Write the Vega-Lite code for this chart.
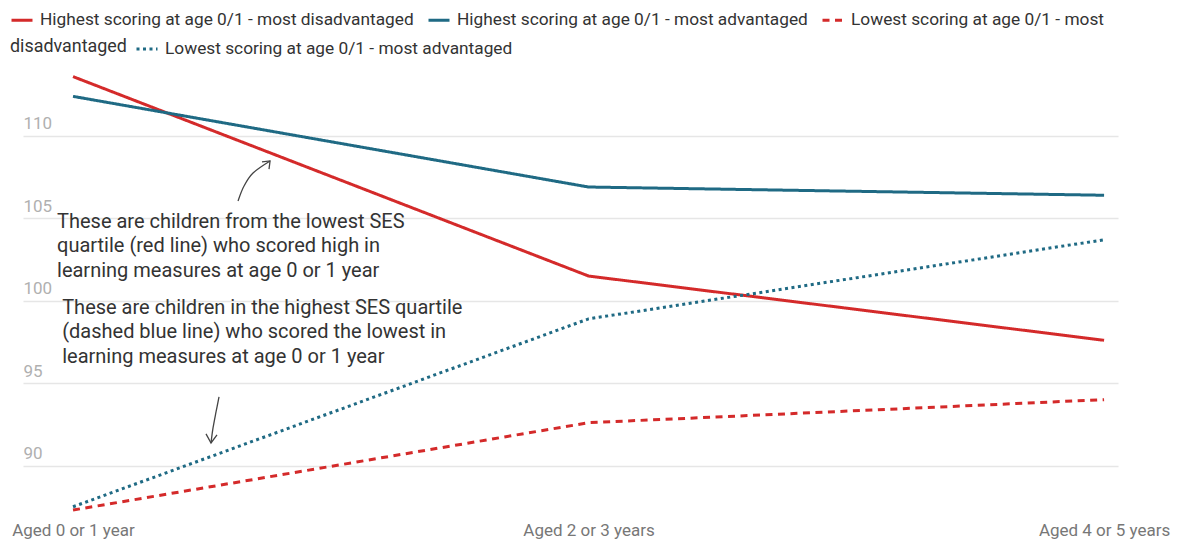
{
  "$schema": "https://vega.github.io/schema/vega-lite/v6.json",
  "autosize": "none",
  "width": 1095,
  "height": 445,
  "padding": {"left": 23, "top": 70, "right": 60, "bottom": 27},
  "background": "white",
  "config": {
    "view": {"stroke": null},
    "font": "Roboto",
    "legend": {
      "orient": "none",
      "direction": "horizontal",
      "padding": 0,
      "labelFont": "Roboto",
      "labelFontSize": 17.3,
      "labelColor": "#333333",
      "labelLimit": 600,
      "labelOffset": 6,
      "columnPadding": 8,
      "symbolType": "stroke",
      "symbolSize": 441,
      "symbolStrokeWidth": 3,
      "titleFont": "Roboto",
      "titleFontSize": 17.9,
      "titleFontWeight": "normal",
      "titleColor": "#333333"
    }
  },
  "datasets": {
    "scores": [
      {"age": 0, "series": "Highest scoring at age 0/1 - most disadvantaged", "score": 113.6},
      {"age": 1, "series": "Highest scoring at age 0/1 - most disadvantaged", "score": 101.5},
      {"age": 2, "series": "Highest scoring at age 0/1 - most disadvantaged", "score": 97.6},
      {"age": 0, "series": "Highest scoring at age 0/1 - most advantaged", "score": 112.4},
      {"age": 1, "series": "Highest scoring at age 0/1 - most advantaged", "score": 106.9},
      {"age": 2, "series": "Highest scoring at age 0/1 - most advantaged", "score": 106.4},
      {"age": 0, "series": "Lowest scoring at age 0/1 - most disadvantaged", "score": 87.3},
      {"age": 1, "series": "Lowest scoring at age 0/1 - most disadvantaged", "score": 92.6},
      {"age": 2, "series": "Lowest scoring at age 0/1 - most disadvantaged", "score": 94.0},
      {"age": 0, "series": "Lowest scoring at age 0/1 - most advantaged", "score": 87.5},
      {"age": 1, "series": "Lowest scoring at age 0/1 - most advantaged", "score": 98.9},
      {"age": 2, "series": "Lowest scoring at age 0/1 - most advantaged", "score": 103.7}
    ],
    "notes": [
      {"nx": -0.031, "ny": 104.44, "note": "These are children from the lowest SES\nquartile (red line) who scored high in\nlearning measures at age 0 or 1 year"},
      {"nx": -0.021, "ny": 99.22, "note": "These are children in the highest SES quartile\n(dashed blue line) who scored the lowest in\nlearning measures at age 0 or 1 year"}
    ],
    "shafts": [
      {"arrow": "a1", "ord": 1, "ax": 0.3201, "ay": 106.05},
      {"arrow": "a1", "ord": 2, "ax": 0.3317, "ay": 106.96},
      {"arrow": "a1", "ord": 3, "ax": 0.3492, "ay": 107.75},
      {"arrow": "a1", "ord": 4, "ax": 0.3822, "ay": 108.48},
      {"arrow": "a2", "ord": 1, "ax": 0.2832, "ay": 94.16},
      {"arrow": "a2", "ord": 2, "ax": 0.2774, "ay": 93.25},
      {"arrow": "a2", "ord": 3, "ax": 0.2716, "ay": 92.28},
      {"arrow": "a2", "ord": 4, "ax": 0.2677, "ay": 91.37}
    ],
    "heads": [
      {"arrow": "a1", "ord": 1, "ax": 0.3666, "ay": 108.42},
      {"arrow": "a1", "ord": 2, "ax": 0.3822, "ay": 108.48},
      {"arrow": "a1", "ord": 3, "ax": 0.3802, "ay": 107.99},
      {"arrow": "a2", "ord": 1, "ax": 0.2580, "ay": 91.92},
      {"arrow": "a2", "ord": 2, "ax": 0.2677, "ay": 91.37},
      {"arrow": "a2", "ord": 3, "ax": 0.2793, "ay": 91.86}
    ]
  },
  "encoding": {
    "x": {
      "type": "quantitative",
      "scale": {"domain": [-0.097, 2.027], "nice": false, "zero": false},
      "axis": {
        "title": null,
        "values": [0, 1, 2],
        "labelExpr": "['Aged 0 or 1 year', 'Aged 2 or 3 years', 'Aged 4 or 5 years'][datum.value]",
        "grid": false,
        "domain": false,
        "ticks": false,
        "tickSize": 0,
        "labelPadding": 7,
        "labelFont": "Roboto",
        "labelFontSize": 17,
        "labelColor": "#777777",
        "labelFlush": false,
        "labelBound": false,
        "labelOverlap": false
      }
    },
    "y": {
      "type": "quantitative",
      "scale": {"domain": [87, 114], "nice": false, "zero": false},
      "axis": {
        "title": null,
        "values": [90, 95, 100, 105, 110],
        "grid": true,
        "gridColor": "#e6e6e6",
        "gridWidth": 1.5,
        "domain": false,
        "ticks": false,
        "tickSize": 0,
        "labelAlign": "left",
        "labelPadding": 0,
        "labelBaseline": "alphabetic",
        "labelOffset": -7,
        "labelFont": "Roboto",
        "labelFontSize": 17,
        "labelColor": "#b0b0b0"
      }
    }
  },
  "layer": [
    {
      "data": {"name": "scores"},
      "transform": [{"filter": "datum.series != 'Lowest scoring at age 0/1 - most advantaged'"}],
      "mark": {"type": "line", "strokeWidth": 3},
      "encoding": {
        "x": {"field": "age"},
        "y": {"field": "score"},
        "color": {
          "field": "series",
          "type": "nominal",
          "scale": {
            "domain": ["Highest scoring at age 0/1 - most disadvantaged", "Highest scoring at age 0/1 - most advantaged", "Lowest scoring at age 0/1 - most disadvantaged"],
            "range": ["#d42a2a", "#1f6a84", "#d42a2a"]
          },
          "legend": {
            "title": null,
            "legendX": -13,
            "legendY": -62,
            "labelExpr": "datum.label == 'Lowest scoring at age 0/1 - most disadvantaged' ? 'Lowest scoring at age 0/1 - most' : datum.label"
          }
        },
        "strokeDash": {
          "field": "series",
          "type": "nominal",
          "scale": {
            "domain": ["Highest scoring at age 0/1 - most disadvantaged", "Highest scoring at age 0/1 - most advantaged", "Lowest scoring at age 0/1 - most disadvantaged"],
            "range": [[1, 0], [1, 0], [7, 5.5]]
          },
          "legend": {
            "title": null,
            "legendX": -13,
            "legendY": -62,
            "labelExpr": "datum.label == 'Lowest scoring at age 0/1 - most disadvantaged' ? 'Lowest scoring at age 0/1 - most' : datum.label"
          }
        }
      }
    },
    {
      "data": {"name": "scores"},
      "transform": [{"filter": "datum.series == 'Lowest scoring at age 0/1 - most advantaged'"}],
      "mark": {"type": "line", "strokeWidth": 3},
      "encoding": {
        "x": {"field": "age"},
        "y": {"field": "score"},
        "color": {
          "field": "series",
          "type": "nominal",
          "scale": {"domain": ["Lowest scoring at age 0/1 - most advantaged"], "range": ["#1f6a84"]},
          "legend": {
            "title": "disadvantaged",
            "titleOrient": "left",
            "titlePadding": 8,
            "legendX": -13,
            "legendY": -33
          }
        },
        "strokeDash": {
          "field": "series",
          "type": "nominal",
          "scale": {"domain": ["Lowest scoring at age 0/1 - most advantaged"], "range": [[3, 3.5]]},
          "legend": {
            "title": "disadvantaged",
            "titleOrient": "left",
            "titlePadding": 8,
            "legendX": -13,
            "legendY": -33
          }
        }
      }
    },
    {
      "data": {"name": "notes"},
      "mark": {"type": "text", "align": "left", "baseline": "alphabetic", "lineBreak": "\n", "lineHeight": 24.5, "font": "Roboto", "fontSize": 20, "color": "#333333"},
      "encoding": {
        "x": {"field": "nx"},
        "y": {"field": "ny"},
        "text": {"field": "note", "type": "nominal"}
      }
    },
    {
      "data": {"name": "shafts"},
      "mark": {"type": "line", "interpolate": "cardinal", "strokeWidth": 1.3, "color": "#444444"},
      "encoding": {
        "x": {"field": "ax"},
        "y": {"field": "ay"},
        "detail": {"field": "arrow", "type": "nominal"},
        "order": {"field": "ord", "type": "quantitative"}
      }
    },
    {
      "data": {"name": "heads"},
      "mark": {"type": "line", "strokeWidth": 1.3, "color": "#444444"},
      "encoding": {
        "x": {"field": "ax"},
        "y": {"field": "ay"},
        "detail": {"field": "arrow", "type": "nominal"},
        "order": {"field": "ord", "type": "quantitative"}
      }
    }
  ],
  "resolve": {
    "scale": {"color": "independent", "strokeDash": "independent"},
    "legend": {"color": "independent", "strokeDash": "independent"}
  }
}
